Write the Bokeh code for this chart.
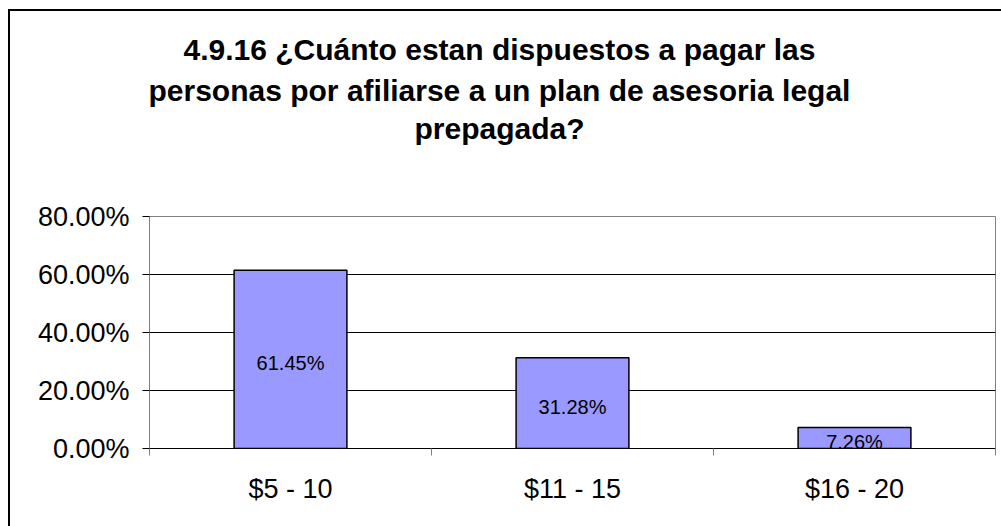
from bokeh.plotting import figure
from bokeh.models import (Range1d, FixedTicker, NumeralTickFormatter, Title,
                          InlineStyleSheet, ColumnDataSource)
from bokeh.core.properties import value
from bokeh.embed import file_html
from bokeh.resources import INLINE

# ---- data ----
title_lines = [
    "4.9.16 ¿Cuánto estan dispuestos a pagar las",
    "personas por afiliarse a un plan de asesoria legal",
    "prepagada?",
]
categories = ["$5 - 10", "$11 - 15", "$16 - 20"]
shares = [0.6145, 0.3128, 0.0726]
y_ticks = [0.0, 0.2, 0.4, 0.6, 0.8]

FONT = "Liberation Sans"

xs = [i + 0.5 for i in range(len(categories))]
src = ColumnDataSource(dict(
    x=xs,
    top=shares,
    mid=[v / 2 for v in shares],
    label=[f"{v * 100:.2f}%" for v in shares],
))

p = figure(width=1001, height=526, output_backend="svg", toolbar_location=None,
           x_range=Range1d(0, len(categories)), y_range=Range1d(0, 0.8),
           min_border_left=149, min_border_right=6, min_border_top=216,
           min_border_bottom=78)

p.border_fill_color = None
p.background_fill_color = "white"
p.outline_line_color = "#808080"
p.outline_line_width = 1

p.stylesheets = [InlineStyleSheet(css=(
    ":host { background-image: linear-gradient(#000,#000), linear-gradient(#000,#000);"
    " background-position: 8px 9px, 8px 9px;"
    " background-size: 2px 100%, 100% 2px;"
    " background-repeat: no-repeat; background-color: white; }"
))]

# title: spacer next to the frame, then the lines from the innermost outwards
title_style = dict(text_font=FONT, text_font_size="30px", text_font_style="bold",
                   text_color="black")
p.add_layout(Title(text=" ", standoff=36, **title_style), "above")
line_offsets = [34, -1, 265]     # left offsets that centre each line on the chart
line_standoffs = [10, 3, 2]
for line, off, so in reversed(list(zip(title_lines, line_offsets, line_standoffs))):
    p.add_layout(Title(text=line, align="left", offset=off, standoff=so,
                       **title_style), "above")

# bars
p.vbar(x="x", top="top", width=0.4, source=src, fill_color="#9999FF",
       line_color="black", line_width=1.5)

# bar labels
p.text(x="x", y="mid", text="label", source=src, text_align="center",
       text_baseline="middle", y_offset=4, text_font=value(FONT),
       text_font_size="20px", text_color="black")

# y axis
p.yaxis.ticker = FixedTicker(ticks=y_ticks)
p.yaxis.formatter = NumeralTickFormatter(format="0.00%")
p.yaxis.major_label_text_font = FONT
p.yaxis.major_label_text_font_size = "27px"
p.yaxis.major_label_text_color = "black"
p.yaxis.major_label_standoff = 13
p.yaxis.axis_line_color = "#808080"
p.yaxis.major_tick_line_color = "black"
p.yaxis.major_tick_out = 7
p.yaxis.major_tick_in = 0
p.yaxis.minor_tick_line_color = None

# x axis: labels at category centres, ticks at category boundaries
p.xaxis.ticker = FixedTicker(ticks=xs, minor_ticks=list(range(len(categories) + 1)))
p.xaxis.major_label_overrides = {x: c for x, c in zip(xs, categories)}
p.xaxis.major_label_text_font = FONT
p.xaxis.major_label_text_font_size = "27px"
p.xaxis.major_label_text_color = "black"
p.xaxis.major_label_standoff = 18
p.xaxis.axis_line_color = "black"
p.xaxis.major_tick_line_color = None
p.xaxis.minor_tick_line_color = "#808080"
p.xaxis.minor_tick_out = 7
p.xaxis.minor_tick_in = 0

# grid
p.xgrid.grid_line_color = None
p.ygrid.ticker = FixedTicker(ticks=y_ticks[1:-1])
p.ygrid.grid_line_color = "black"
p.ygrid.grid_line_width = 1

open("out.html", "w").write(file_html(p, INLINE))
